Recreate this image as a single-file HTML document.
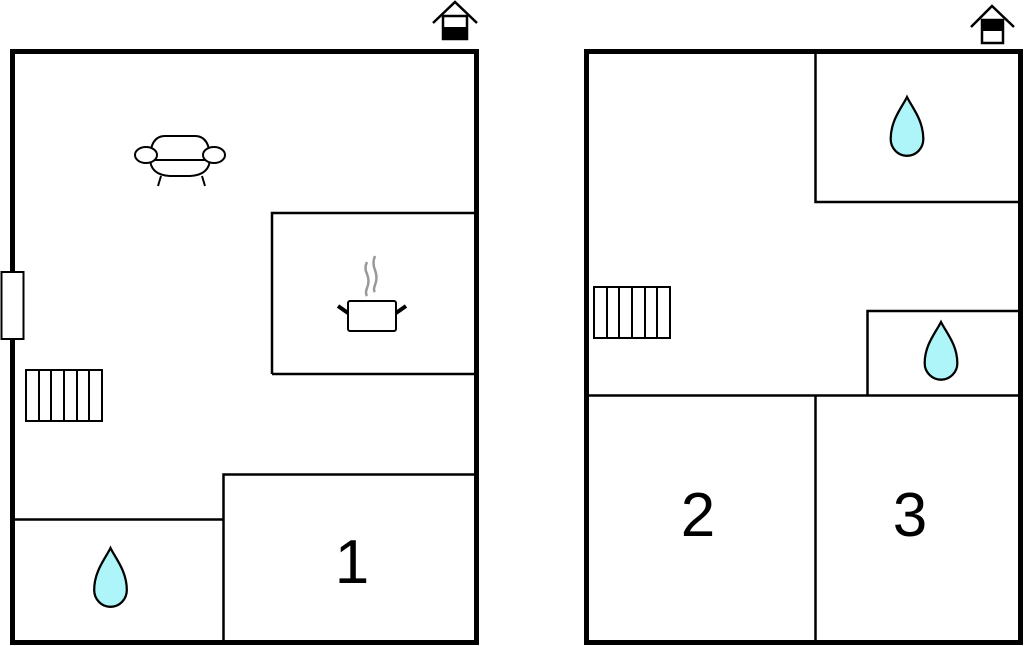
<!DOCTYPE html>
<html><head><style>html,body{margin:0;padding:0;background:#fff}svg{display:block}</style></head>
<body>
<svg width="1024" height="646" viewBox="0 0 1024 646" xmlns="http://www.w3.org/2000/svg" font-family="Liberation Sans, sans-serif">
<defs>
<path id="drop" d="M0,0 C5,10 16,22 16,40 A16,16 0 0 1 -16,40 C-16,22 -5,10 0,0 Z" fill="#aef5f9" stroke="#000" stroke-width="2.2"/>
</defs>
<!-- LEFT PLAN -->
<g fill="none" stroke="#000">
<rect x="12.5" y="51.5" width="464" height="591" stroke-width="5"/>
<polyline points="272,374 272,213 475,213" stroke-width="2.5"/>
<line x1="272" y1="374" x2="475" y2="374" stroke-width="2.5"/>
<polyline points="15,519.5 223.5,519.5" stroke-width="2.5"/>
<polyline points="223.5,640 223.5,474.5 475,474.5" stroke-width="2.5"/>
</g>
<rect x="1.5" y="272" width="22" height="67" fill="#fff" stroke="#000" stroke-width="2"/>
<g fill="#fff" stroke="#000" stroke-width="2">
<rect x="26" y="370" width="76" height="51"/>
<line x1="39" y1="370" x2="39" y2="421"/><line x1="51" y1="370" x2="51" y2="421"/><line x1="64" y1="370" x2="64" y2="421"/><line x1="77" y1="370" x2="77" y2="421"/><line x1="89" y1="370" x2="89" y2="421"/>
</g>
<!-- sofa -->
<g fill="#fff" stroke="#000" stroke-width="2">
<path d="M150,160 Q150,136 165,136 L195,136 Q210,136 210,160"/>
<path d="M150,158 Q150,175 170,176 L190,176 Q210,175 210,158"/>
<line x1="150" y1="160" x2="210" y2="160"/>
<ellipse cx="146" cy="155" rx="11" ry="8"/>
<ellipse cx="214" cy="155" rx="11" ry="8"/>
<line x1="161" y1="176" x2="158" y2="186"/><line x1="202" y1="176" x2="205" y2="186"/>
</g>
<!-- pot -->
<path d="M367,262 Q364,268 367,274 Q370,281 367,288 Q365,293 367,296 M375,256 Q372,263 375,270 Q378,278 375,285 Q373,290 375,292" fill="none" stroke="#999" stroke-width="2.5"/>
<rect x="348" y="301" width="48" height="30" rx="2" fill="#fff" stroke="#000" stroke-width="2"/>
<line x1="348" y1="313" x2="338" y2="306" stroke="#000" stroke-width="4"/>
<line x1="396" y1="313" x2="406" y2="306" stroke="#000" stroke-width="4"/>
<use href="#drop" transform="translate(110.5,548) scale(1.02,1.05)"/>
<text x="352" y="583" font-size="62" text-anchor="middle">1</text>
<!-- house icons -->
<g stroke="#000" stroke-width="2.5" fill="none">
<polyline points="433,23 455,2 477,23"/>
<rect x="443" y="16" width="24" height="23" fill="#fff"/>
</g>
<rect x="443" y="27" width="24" height="13" fill="#000"/>
<g stroke="#000" stroke-width="2.5" fill="none">
<polyline points="971,27 992,6 1014,27"/>
<rect x="982" y="20" width="21" height="23" fill="#fff"/>
</g>
<rect x="982" y="20" width="21" height="11" fill="#000"/>
<!-- RIGHT PLAN -->
<g fill="none" stroke="#000">
<rect x="586.5" y="51.5" width="434" height="591" stroke-width="5"/>
<polyline points="815.5,54 815.5,202 1018,202" stroke-width="2.5"/>
<polyline points="867.5,395 867.5,311 1018,311" stroke-width="2.5"/>
<line x1="589" y1="395.5" x2="1018" y2="395.5" stroke-width="2.5"/>
<line x1="815.5" y1="395" x2="815.5" y2="640" stroke-width="2.5"/>
</g>
<g fill="#fff" stroke="#000" stroke-width="2">
<rect x="594" y="287" width="76" height="51"/>
<line x1="607" y1="287" x2="607" y2="338"/><line x1="619" y1="287" x2="619" y2="338"/><line x1="632" y1="287" x2="632" y2="338"/><line x1="645" y1="287" x2="645" y2="338"/><line x1="657" y1="287" x2="657" y2="338"/>
</g>
<use href="#drop" transform="translate(907,97) scale(1.02,1.05)"/>
<use href="#drop" transform="translate(941,322) scale(1.02,1.03)"/>
<text x="698" y="536" font-size="62" text-anchor="middle">2</text>
<text x="910" y="536" font-size="62" text-anchor="middle">3</text>
</svg>
</body></html>
